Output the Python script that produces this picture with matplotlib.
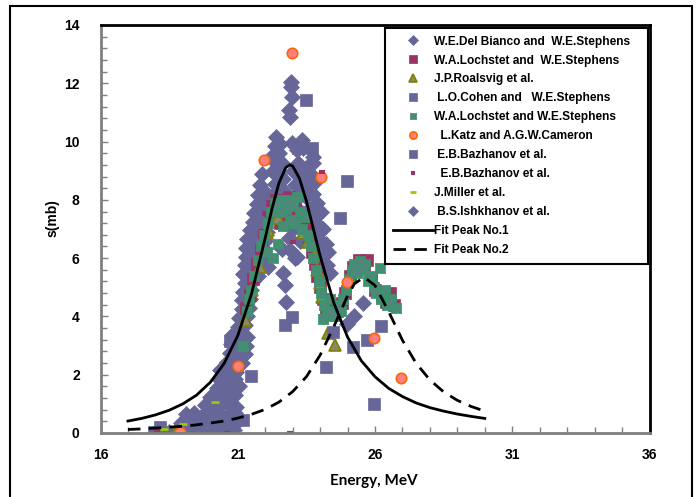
import matplotlib
matplotlib.use('Agg')
import matplotlib.pyplot as plt
from matplotlib.patches import Rectangle
from matplotlib.ticker import MultipleLocator, FixedLocator

plt.rcParams['font.family'] = ['Liberation Sans', 'DejaVu Sans']
plt.rcParams['font.weight'] = 'bold'

# (energy MeV, cross section mb)
delbianco = [
    (18.5, 0.05), (18.8, 0.1), (19.1, 0.0), (19.4, 0.1), (19.7, 0.05), (20.0, 0.0), (20.3, 0.1), (20.6, 0.05), (20.85, 0.1),
    (18.95, 0.35), (19.25, 0.4), (19.5, 0.3), (19.8, 0.4), (20.1, 0.35), (20.4, 0.3), (20.7, 0.4), (20.95, 0.35),
    (19.1, 0.65), (19.4, 0.7), (19.7, 0.6), (20.0, 0.7), (20.3, 0.65), (20.6, 0.6), (20.9, 0.7),
    (19.8, 0.95), (20.1, 1.0), (20.4, 0.95), (20.7, 1.0), (20.95, 0.9),
    (20.0, 1.25), (20.3, 1.3), (20.6, 1.2), (20.9, 1.3),
    (20.25, 1.55), (20.55, 1.6), (20.85, 1.55), (21.05, 1.6),
    (20.3, 1.85), (20.6, 1.9), (20.9, 1.85),
    (20.35, 2.15), (20.65, 2.2), (20.95, 2.1),
    (20.6, 2.45), (20.9, 2.5), (21.15, 2.4),
    (20.7, 2.75), (21.0, 2.8), (21.25, 2.7),
    (20.75, 3.05), (21.05, 3.1), (21.3, 3.0),
    (20.8, 3.35), (21.1, 3.4), (21.35, 3.3),
    (21.0, 3.65), (21.25, 3.7),
    (21.05, 3.95), (21.35, 4.0),
    (21.15, 4.25), (21.4, 4.3),
    (21.15, 4.55), (21.45, 4.6),
    (21.2, 4.85), (21.5, 4.9),
    (21.25, 5.15), (21.55, 5.2),
    (21.2, 5.45), (21.5, 5.5), (21.75, 5.4),
    (21.25, 5.75), (21.55, 5.8), (21.85, 5.7),
    (21.3, 6.05), (21.6, 6.1), (21.9, 6.0),
    (21.3, 6.35), (21.6, 6.4), (21.95, 6.3),
    (21.35, 6.65), (21.65, 6.7), (22.0, 6.6),
    (21.45, 6.95), (21.75, 7.0), (22.05, 6.9),
    (21.55, 7.25), (21.85, 7.3),
    (21.6, 7.55), (21.9, 7.6), (22.2, 7.5),
    (21.7, 7.85), (22.0, 7.9), (22.3, 7.8),
    (21.75, 8.15), (22.05, 8.2),
    (21.8, 8.5), (22.35, 8.55),
    (21.87, 8.9), (22.36, 8.9),
    (22.4, 10.15), (22.35, 9.85), (22.55, 9.9), (22.3, 9.55), (22.5, 9.6), (22.4, 9.25),
    (22.6, 9.25), (22.3, 9.0), (22.5, 8.9), (22.65, 8.7), (22.45, 8.35), (22.65, 8.35),
    (22.93, 12.06), (22.93, 11.88), (22.96, 11.54), (22.87, 11.08), (22.9, 10.83),
    (22.96, 9.94), (23.15, 9.71), (23.33, 10.05), (23.39, 9.77), (23.51, 9.14), (23.2, 9.25),
    (23.73, 9.48), (23.75, 9.25),
    (23.0, 9.0), (23.2, 8.9), (23.45, 8.7), (23.65, 8.9), (23.8, 8.6), (23.1, 8.5), (23.35, 8.4), (23.6, 8.4),
    (22.75, 8.0), (22.85, 7.6), (23.05, 8.1), (23.2, 7.7), (22.7, 7.2), (23.0, 7.0), (23.25, 6.6),
    (22.9, 6.28), (23.09, 6.0), (22.6, 6.3), (22.85, 6.7),
    (23.5, 8.1), (23.75, 8.2), (23.9, 7.9), (23.6, 7.7), (23.85, 7.5), (24.05, 7.6), (23.7, 7.2),
    (23.95, 7.1), (24.1, 7.0), (23.8, 6.8), (24.05, 6.6), (24.2, 6.5), (23.9, 6.3), (24.15, 6.1),
    (24.3, 6.2), (24.0, 5.9), (24.25, 5.75), (24.1, 5.45), (24.35, 5.5),
    (22.66, 5.48), (22.72, 5.08), (22.76, 4.5), (22.1, 5.7), (23.15, 6.05),
]

lochstet_1 = [
    (21.3, 4.3), (21.45, 4.75), (21.55, 5.3), (21.7, 5.8), (21.85, 6.3), (21.95, 6.9), (22.1, 7.4),
    (22.25, 7.8), (22.4, 8.0), (22.55, 7.2), (22.7, 7.9), (22.85, 8.1), (23.0, 7.6), (23.1, 8.0),
    (23.2, 7.4), (23.35, 7.3), (23.5, 7.0), (23.6, 6.6), (23.7, 6.2), (23.8, 5.8), (23.9, 5.4),
    (24.0, 5.0), (24.1, 4.6), (24.2, 4.3), (24.4, 4.4), (24.6, 4.2), (24.8, 4.45), (24.9, 4.8),
    (25.1, 5.4), (25.2, 5.7), (25.4, 5.95), (25.6, 5.75), (25.7, 5.95), (25.85, 5.3), (26.0, 4.9),
    (26.25, 4.7), (26.4, 4.5), (26.55, 4.8), (26.7, 4.4),
]

roalsvig = [
    (18.7, 0.0), (21.26, 3.88), (21.51, 4.91), (21.81, 5.71), (22.05, 6.85), (22.11, 6.97),
    (22.48, 7.37), (22.54, 7.77), (23.39, 6.85), (23.57, 6.57), (23.82, 6.11), (23.88, 5.59),
    (24.0, 5.14), (24.06, 4.68), (24.24, 4.05), (24.3, 3.42), (24.54, 3.02),
]

cohen = [
    (17.95, 0.05), (18.15, 0.2), (21.2, 0.45), (21.48, 1.96), (20.72, 3.16), (21.75, 7.25),
    (22.72, 3.71), (22.96, 3.99), (24.21, 2.28), (24.46, 3.48), (25.21, 2.96), (25.7, 3.19),
    (25.96, 0.98), (26.22, 3.67),
]

lochstet_2 = [
    (21.2, 3.0), (21.33, 4.2), (21.4, 4.6), (21.5, 4.9), (21.6, 5.4), (21.75, 5.95), (21.85, 6.4),
    (21.95, 6.8), (22.05, 6.2), (22.1, 7.2), (22.2, 7.6), (22.3, 6.0), (22.35, 7.9), (22.45, 6.5),
    (22.5, 7.6), (22.6, 8.0), (22.65, 7.1), (22.75, 7.7), (22.85, 8.0), (22.9, 7.3), (23.0, 7.8),
    (23.1, 7.2), (23.15, 8.1), (23.25, 7.6), (23.35, 7.0), (23.45, 7.4), (23.55, 6.8), (23.65, 6.4),
    (23.75, 6.0), (23.85, 5.6), (23.95, 5.2), (24.05, 4.8), (24.15, 4.4), (24.25, 4.1), (24.35, 4.6),
    (24.45, 4.2), (24.55, 4.0), (24.65, 4.4), (24.75, 4.2), (24.85, 4.6), (24.95, 4.9), (25.05, 5.3),
    (25.15, 5.6), (25.25, 5.8), (25.35, 5.5), (25.45, 5.9), (25.55, 5.6), (25.65, 5.8), (25.75, 5.2),
    (25.85, 5.4), (25.95, 5.0), (26.05, 4.8), (26.18, 5.65), (26.2, 4.6), (26.35, 4.9), (26.45, 4.4),
    (26.6, 4.6), (26.75, 4.3), (24.1, 3.9),
]

katz = [(18.9, 0.05), (21.02, 2.3), (21.97, 9.37), (22.96, 13.05), (24.03, 8.8),
        (24.97, 5.17), (25.96, 3.26), (26.94, 1.88)]

bazhanov_1 = [(23.2, 9.77), (23.69, 9.77), (23.49, 11.43), (24.97, 8.66), (24.72, 7.38)]
bazhanov_2 = [(18.05, 0.1), (20.6, 0.0), (22.9, 0.0), (24.06, 8.97), (23.02, 6.57)]
miller = [(18.3, 0.15), (19.0, 0.3), (20.16, 1.07)]
ishkhanov = [(24.97, 3.74), (25.25, 4.01), (25.55, 4.45)]

# fitted peak curves
fit1_e = [17.0, 17.5, 18.0, 18.5, 19.0, 19.5, 20.0, 20.5, 21.0, 21.5, 22.0, 22.25, 22.5, 22.75, 22.9,
          23.0, 23.25, 23.5, 23.75, 24.0, 24.5, 25.0, 25.5, 26.0, 26.5, 27.0, 27.5, 28.0, 28.5,
          29.0, 29.5, 30.0]
fit1_s = [0.41, 0.50, 0.62, 0.78, 1.00, 1.30, 1.74, 2.38, 3.34, 4.77, 6.69, 7.71, 8.58, 9.11, 9.20,
          9.16, 8.73, 7.96, 7.02, 6.08, 4.46, 3.29, 2.48, 1.93, 1.53, 1.25, 1.03, 0.87, 0.75,
          0.65, 0.57, 0.50]
fit2_e = [17.0, 17.5, 18.0, 18.5, 19.0, 19.5, 20.0, 20.5, 21.0, 21.5, 22.0, 22.5, 23.0, 23.5,
          24.0, 24.5, 25.0, 25.25, 25.6, 26.0, 26.5, 27.0, 27.5, 28.0, 28.5, 29.0, 29.5, 30.0]
fit2_s = [0.12, 0.14, 0.17, 0.20, 0.23, 0.28, 0.34, 0.41, 0.51, 0.64, 0.81, 1.06, 1.42, 1.93,
          2.67, 3.65, 4.71, 5.12, 5.35, 5.06, 4.16, 3.18, 2.39, 1.82, 1.41, 1.12, 0.91, 0.75]

x_ticks = [16, 21, 26, 31, 36]

slate = '#666699'

fig = plt.figure(figsize=(6.99, 4.97), dpi=100)
ax = fig.add_axes([0.1438, 0.1288, 0.7854, 0.8209])


def pts(data):
    return [p[0] for p in data], [p[1] for p in data]


h_del, = ax.plot(*pts(delbianco), 'D', ms=7.8, color=slate, mec=slate, mew=0.5)
h_l1, = ax.plot(*pts(lochstet_1), 's', ms=8, color='#993366', mec='#993366', mew=0.5)
h_roa, = ax.plot(*pts(roalsvig), '^', ms=8, color='#8a8a66', mec='#808000', mew=1.2)
h_coh, = ax.plot(*pts(cohen), 's', ms=8, color=slate, mec=slate, mew=0.5)
h_l2s, = ax.plot(*pts(lochstet_2), 's', ms=7, color='#339966', mec='#339966', mew=0.5)
h_l2x, = ax.plot(*pts(lochstet_2), 'x', ms=7, color='#5c7f86', mew=1.0)
h_katz, = ax.plot(*pts(katz), 'o', ms=7.5, color='#ff8080', mec='#ff6600', mew=1.2)
h_b1, = ax.plot(*pts(bazhanov_1), 's', ms=8.5, color=slate, mec=slate, mew=0.5)
h_b2, = ax.plot(*pts(bazhanov_2), '_', ms=5, color='#993366', mew=3)
h_mil, = ax.plot(*pts(miller), '_', ms=6, color='#99cc00', mew=2)
h_ish, = ax.plot(*pts(ishkhanov), 'D', ms=7.8, color=slate, mec=slate, mew=0.5)

h_f1, = ax.plot(fit1_e, fit1_s, '-', color='black', lw=2.0)
h_f2, = ax.plot(fit2_e, fit2_s, color='black', lw=2.0, dashes=(4.5, 3))

ax.set_xlim(16, 36)
ax.set_ylim(0, 14)
ax.xaxis.set_major_locator(FixedLocator(x_ticks))
ax.xaxis.set_minor_locator(MultipleLocator(1))
ax.yaxis.set_major_locator(MultipleLocator(2))
ax.yaxis.set_minor_locator(MultipleLocator(0.4))
ax.tick_params(which='both', direction='in', color='#808080', width=1, labelsize=10)
ax.tick_params(which='major', length=5)
ax.tick_params(which='minor', length=4)
ax.tick_params(axis='y', pad=15)
ax.tick_params(axis='x', pad=11)
for lab in ax.get_xticklabels() + ax.get_yticklabels():
    lab.set_fontweight('bold')

for side in ('left', 'bottom'):
    ax.spines[side].set_color('#808080')
    ax.spines[side].set_linewidth(2)
for side in ('top', 'right'):
    ax.spines[side].set_color('black')
    ax.spines[side].set_linewidth(2)

ax.set_ylabel('s(mb)', fontsize=10, fontweight='bold')
ax.yaxis.set_label_coords(-0.074, 0.527)
ax.set_xlabel('Energy, MeV', fontsize=11, fontweight='bold', family=['Lato', 'DejaVu Sans'])
ax.xaxis.set_label_coords(0.498, -0.10)

handles = [h_del, h_l1, h_roa, h_coh, (h_l2s, h_l2x), h_katz, h_b1, h_b2, h_mil, h_ish, h_f1, h_f2]
labels = ['W.E.Del Bianco and  W.E.Stephens   ', 'W.A.Lochstet and  W.E.Stephens',
          'J.P.Roalsvig et al.', ' L.O.Cohen and   W.E.Stephens',
          'W.A.Lochstet and W.E.Stephens', '  L.Katz and A.G.W.Cameron',
          ' E.B.Bazhanov et al.', '  E.B.Bazhanov et al.', 'J.Miller et al.',
          ' B.S.Ishkhanov et al.', 'Fit Peak No.1', 'Fit Peak No.2']
leg = ax.legend(handles, labels, loc='upper left', bbox_to_anchor=(0.518, 0.993),
                borderaxespad=0, fancybox=False, framealpha=1, edgecolor='black',
                prop={'size': 8.6, 'weight': 'bold'}, handlelength=3.35, handletextpad=0.12,
                labelspacing=0.58, borderpad=0.65, markerscale=0.7)
leg.get_frame().set_linewidth(1.5)

# border round the whole chart
fig.patches.append(Rectangle((10 / 699, -0.01), 682 / 699, 1 - 6 / 497 + 0.01,
                             transform=fig.transFigure, fill=False, edgecolor='black',
                             lw=1.5))

fig.savefig('out.png', dpi=100)
